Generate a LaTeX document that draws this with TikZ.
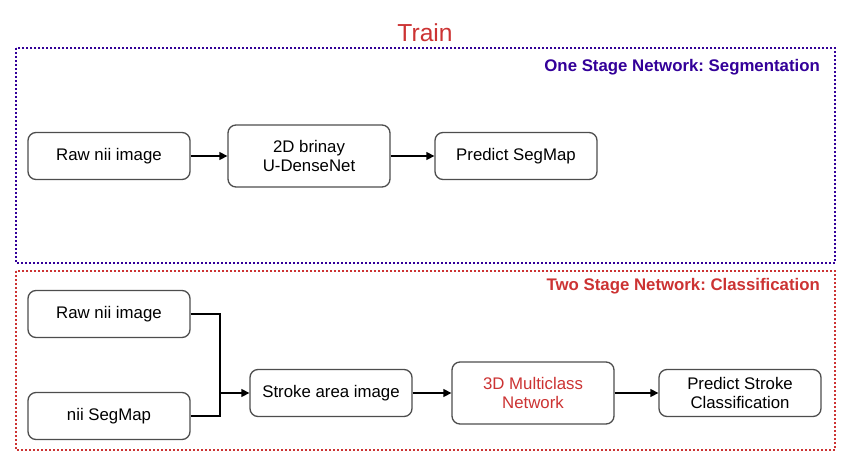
\documentclass[tikz,border=0pt]{standalone}
\usepackage{fontspec}
\setmainfont{Liberation Sans}
\usepackage{tikz}
\usetikzlibrary{arrows.meta, positioning, calc}
\definecolor{trainred}{RGB}{204, 51, 51}
\definecolor{segblue}{RGB}{51, 0, 153}
\definecolor{boxgray}{RGB}{77, 77, 77}
\frenchspacing
\tikzset{
    stagebox/.style={rectangle, rounded corners=8pt, draw=boxgray, line width=1.3pt, fill=white, align=center, font=\fontsize{16.8}{19.5}\selectfont, inner sep=0pt},
    smallbox/.style={stagebox, minimum width=162pt, minimum height=47pt},
    tallbox/.style={stagebox, minimum width=162pt, minimum height=62pt},
    frame/.style={rectangle, line width=2pt, dash pattern=on 2pt off 2pt},
    framelabel/.style={anchor=east, inner sep=0pt, font=\bfseries\fontsize{16.8}{18}\selectfont},
    arrow/.style={line width=1.3pt, -{Triangle[length=8pt, width=8pt]}},
    joinline/.style={line width=1.3pt}
}
\begin{document}
\begin{tikzpicture}[x=1pt, y=-1pt]
    \useasboundingbox (0,0) rectangle (856,474);

    % Title
    \node[text=trainred, font=\fontsize{24.6}{28}\selectfont] (title) at (425,33) {Train};

    % Stage frames
    \draw[frame, draw=segblue] (16,48) rectangle (835,263);
    \node[framelabel, text=segblue] (seglabel) at (820,67) {One Stage Network: Segmentation};
    \draw[frame, draw=trainred] (16,271) rectangle (835,450);
    \node[framelabel, text=trainred] (clslabel) at (820,286) {Two Stage Network: Classification};

    % One stage network
    \node[smallbox] (raw1) at (109,156) {Raw nii image};
    \node[tallbox] (unet) at (309,156) {2D brinay\\U-DenseNet};
    \node[smallbox] (segmap) at (516,156) {Predict SegMap};

    % Two stage network
    \node[smallbox] (raw2) at (109,314) {Raw nii image};
    \node[smallbox] (niiseg) at (109,416) {nii SegMap};
    \node[smallbox] (stroke) at (331,393) {Stroke area image};
    \node[tallbox, text=trainred] (multi) at (533,393) {3D Multiclass\\Network};
    \node[smallbox] (predict) at (740,393) {Predict Stroke\\Classification};

    % Arrows
    \draw[arrow] (raw1) -- (unet);
    \draw[arrow] (unet) -- (segmap);
    \coordinate (join) at (220,393);
    \draw[joinline] (raw2.east) -| (join);
    \draw[joinline] (niiseg.east) -| (join);
    \draw[arrow] (join) -- (stroke);
    \draw[arrow] (stroke) -- (multi);
    \draw[arrow] (multi) -- (predict);
\end{tikzpicture}
\end{document}
